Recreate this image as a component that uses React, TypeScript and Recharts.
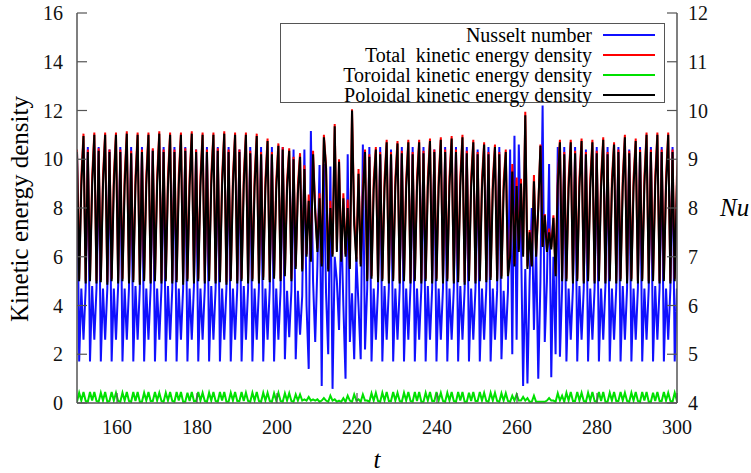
import React from 'react'
import { LineChart, Line, XAxis, YAxis } from 'recharts'

// uniform sampling of the time series: five samples per oscillation
const T0 = 150
const DT = 0.5414

// one row per oscillation (5 samples each)
const nusseltCycles: number[][] = [
  [9.15, 4.85, 6.35, 5.3, 6.35],
  [9.25, 4.85, 6.4, 5.3, 6.35],
  [9.25, 4.85, 6.35, 5.3, 6.35],
  [9.2, 4.85, 6.35, 5.3, 6.4],
  [9.25, 4.85, 6.35, 5.3, 6.35],
  [9.25, 4.85, 6.4, 5.3, 6.35],
  [9.25, 4.85, 6.35, 5.3, 6.35],
  [9.2, 4.85, 6.35, 5.3, 6.35],
  [9.25, 4.85, 6.4, 5.3, 6.35],
  [9.25, 4.85, 6.35, 5.3, 6.35],
  [9.25, 4.85, 6.35, 5.3, 6.4],
  [9.2, 4.85, 6.35, 5.3, 6.35],
  [9.25, 4.85, 6.4, 5.3, 6.35],
  [9.25, 4.85, 6.35, 5.3, 6.35],
  [9.25, 4.85, 6.35, 5.3, 6.35],
  [9.2, 4.85, 6.4, 5.3, 6.35],
  [9.25, 4.85, 6.35, 5.3, 6.35],
  [9.25, 4.85, 6.35, 5.3, 6.35],
  [9.25, 4.85, 6.35, 5.3, 6.3],
  [9.25, 4.9, 6.3, 5.35, 6.3],
  [9.2, 4.9, 6.3, 5.4, 6.2],
  [9.2, 6.0, 4.7, 9.58, 6.5],
  [5.25, 6.8, 8.88, 4.35, 8.9],
  [6.25, 5.0, 8.85, 4.29, 7.0],
  [6.5, 5.5, 7.75, 6.0, 4.5],
  [9.1, 5.25, 6.25, 4.9, 7.0],
  [6.0, 4.9, 9.3, 5.1, 6.35],
  [9.25, 4.85, 6.35, 5.3, 6.35],
  [9.25, 4.85, 6.4, 5.3, 6.35],
  [9.2, 4.85, 6.35, 5.3, 6.35],
  [9.25, 4.85, 6.35, 5.3, 6.4],
  [9.25, 4.85, 6.35, 5.3, 6.35],
  [9.25, 4.85, 6.4, 5.3, 6.35],
  [9.2, 4.85, 6.35, 5.3, 6.35],
  [9.25, 4.85, 6.35, 5.3, 6.35],
  [9.25, 4.85, 6.4, 5.3, 6.35],
  [9.25, 4.85, 6.35, 5.3, 6.35],
  [9.2, 4.85, 6.35, 5.3, 6.35],
  [9.25, 4.85, 6.35, 5.3, 6.3],
  [9.25, 4.9, 6.3, 5.3, 6.3],
  [9.2, 5.0, 9.48, 5.3, 9.3],
  [7.5, 4.35, 6.75, 4.4, 6.5],
  [8.0, 5.5, 7.25, 4.5, 6.5],
  [10.1, 5.25, 6.5, 8.9, 4.53],
  [7.0, 5.0, 9.25, 4.95, 6.35],
  [9.25, 4.85, 6.35, 5.3, 6.35],
  [9.25, 4.85, 6.4, 5.3, 6.35],
  [9.2, 4.85, 6.35, 5.3, 6.35],
  [9.25, 4.85, 6.35, 5.3, 6.4],
  [9.25, 4.85, 6.35, 5.3, 6.35],
  [9.25, 4.85, 6.4, 5.3, 6.35],
  [9.2, 4.85, 6.35, 5.3, 6.35],
  [9.25, 4.85, 6.35, 5.3, 6.35],
  [9.25, 4.85, 6.4, 5.3, 6.35],
  [9.25, 4.85, 6.35, 5.3, 6.35],
  [9.25, 4.85, 6.35, 5.3, 6.35],
]

const poloidalCycles: number[][] = [
  [10.3, 5.0, 8.9, 10.95, 4.9],
  [10.3, 5.0, 8.9, 11.0, 4.9],
  [10.35, 4.95, 8.95, 11.0, 4.85],
  [10.3, 5.0, 8.9, 11.0, 4.9],
  [10.3, 5.0, 8.9, 11.05, 4.9],
  [10.25, 4.95, 8.9, 11.0, 4.85],
  [10.3, 5.0, 8.95, 11.0, 4.9],
  [10.35, 5.0, 8.9, 11.05, 4.9],
  [10.3, 5.0, 8.9, 11.0, 4.9],
  [10.3, 4.95, 8.95, 11.0, 4.85],
  [10.35, 5.0, 8.9, 11.05, 4.9],
  [10.3, 5.0, 8.9, 11.0, 4.9],
  [10.3, 5.0, 8.95, 11.0, 4.9],
  [10.35, 4.95, 8.9, 11.05, 4.85],
  [10.3, 5.0, 8.9, 11.0, 4.9],
  [10.3, 5.0, 8.9, 11.0, 4.9],
  [10.25, 5.0, 8.85, 10.95, 4.9],
  [10.2, 5.05, 8.8, 10.75, 4.95],
  [10.2, 5.1, 8.75, 10.55, 5.0],
  [10.4, 5.2, 8.8, 10.35, 5.0],
  [10.0, 5.5, 8.6, 10.1, 5.4],
  [9.6, 6.0, 8.3, 5.8, 10.2],
  [7.8, 6.2, 8.4, 5.6, 10.9],
  [9.65, 5.4, 8.0, 6.0, 11.35],
  [6.2, 9.9, 5.8, 8.4, 6.0],
  [8.0, 5.5, 12.0, 7.3, 5.8],
  [9.4, 5.6, 8.5, 10.3, 5.0],
  [10.1, 5.1, 8.75, 10.4, 4.95],
  [10.2, 5.0, 8.8, 10.7, 4.9],
  [10.2, 5.0, 8.85, 10.65, 4.9],
  [10.25, 5.0, 8.8, 10.7, 4.9],
  [10.2, 5.0, 8.85, 10.7, 4.9],
  [10.25, 5.0, 8.85, 10.75, 4.9],
  [10.3, 5.0, 8.85, 10.8, 4.9],
  [10.3, 5.0, 8.9, 10.85, 4.9],
  [10.3, 4.95, 8.9, 10.9, 4.85],
  [10.25, 5.0, 8.85, 10.7, 4.9],
  [10.2, 5.0, 8.8, 10.6, 4.95],
  [10.2, 5.05, 8.75, 10.5, 5.0],
  [10.2, 5.1, 8.7, 10.3, 5.2],
  [6.0, 9.5, 5.6, 8.9, 6.2],
  [9.0, 6.0, 11.8, 5.5, 7.0],
  [5.6, 9.1, 6.0, 8.0, 10.55],
  [6.4, 7.7, 6.2, 7.0, 6.3],
  [7.6, 5.2, 8.9, 10.7, 5.0],
  [10.2, 5.0, 8.8, 10.7, 4.9],
  [10.25, 5.0, 8.85, 10.75, 4.9],
  [10.2, 5.0, 8.8, 10.7, 4.9],
  [10.25, 5.0, 8.85, 10.8, 4.9],
  [10.2, 5.0, 8.8, 10.6, 4.9],
  [10.3, 5.0, 8.85, 10.9, 4.9],
  [10.25, 5.0, 8.85, 10.75, 4.9],
  [10.3, 5.0, 8.9, 11.0, 4.9],
  [10.3, 5.0, 8.9, 11.0, 4.9],
  [10.3, 5.0, 8.9, 11.0, 4.9],
  [10.3, 5.0, 8.85, 10.9, 4.9],
]

const totalCycles: number[][] = [
  [10.4, 5.1, 9.3, 11.05, 5.0],
  [10.4, 5.1, 9.3, 11.1, 5.0],
  [10.45, 5.05, 9.35, 11.1, 4.95],
  [10.4, 5.1, 9.3, 11.1, 5.0],
  [10.4, 5.1, 9.3, 11.15, 5.0],
  [10.35, 5.05, 9.3, 11.1, 4.95],
  [10.4, 5.1, 9.35, 11.1, 5.0],
  [10.45, 5.1, 9.3, 11.15, 5.0],
  [10.4, 5.1, 9.3, 11.1, 5.0],
  [10.4, 5.05, 9.35, 11.1, 4.95],
  [10.45, 5.1, 9.3, 11.15, 5.0],
  [10.4, 5.1, 9.3, 11.1, 5.0],
  [10.4, 5.1, 9.35, 11.1, 5.0],
  [10.45, 5.05, 9.3, 11.15, 4.95],
  [10.4, 5.1, 9.3, 11.1, 5.0],
  [10.4, 5.1, 9.3, 11.1, 5.0],
  [10.35, 5.1, 9.25, 11.05, 5.0],
  [10.3, 5.15, 9.2, 10.85, 5.05],
  [10.3, 5.2, 9.15, 10.65, 5.1],
  [10.5, 5.3, 9.15, 10.45, 5.1],
  [10.1, 5.6, 8.95, 10.25, 5.5],
  [9.75, 6.1, 8.55, 5.9, 10.35],
  [7.95, 6.35, 8.6, 5.7, 11.0],
  [9.75, 5.5, 8.3, 6.1, 11.45],
  [6.3, 10.0, 5.9, 8.6, 6.1],
  [8.35, 5.6, 12.05, 7.7, 5.9],
  [9.6, 5.7, 8.9, 10.4, 5.1],
  [10.2, 5.2, 9.15, 10.5, 5.05],
  [10.3, 5.1, 9.2, 10.8, 5.0],
  [10.3, 5.1, 9.25, 10.75, 5.0],
  [10.35, 5.1, 9.2, 10.8, 5.0],
  [10.3, 5.1, 9.25, 10.8, 5.0],
  [10.35, 5.1, 9.25, 10.85, 5.0],
  [10.4, 5.1, 9.25, 10.9, 5.0],
  [10.4, 5.1, 9.3, 10.95, 5.0],
  [10.4, 5.05, 9.3, 11.0, 4.95],
  [10.35, 5.1, 9.25, 10.8, 5.0],
  [10.3, 5.1, 9.2, 10.7, 5.05],
  [10.3, 5.15, 9.15, 10.6, 5.1],
  [10.3, 5.2, 9.1, 10.4, 5.3],
  [6.1, 9.8, 5.7, 9.25, 6.3],
  [9.2, 6.1, 11.95, 5.6, 7.1],
  [5.65, 9.35, 6.05, 8.05, 10.6],
  [6.45, 7.75, 6.3, 7.15, 6.4],
  [7.7, 5.3, 9.3, 10.8, 5.1],
  [10.3, 5.1, 9.2, 10.8, 5.0],
  [10.35, 5.1, 9.25, 10.85, 5.0],
  [10.3, 5.1, 9.2, 10.8, 5.0],
  [10.35, 5.1, 9.25, 10.9, 5.0],
  [10.3, 5.1, 9.2, 10.7, 5.0],
  [10.4, 5.1, 9.25, 11.0, 5.0],
  [10.35, 5.1, 9.25, 10.85, 5.0],
  [10.4, 5.1, 9.3, 11.1, 5.0],
  [10.4, 5.1, 9.3, 11.1, 5.0],
  [10.4, 5.1, 9.3, 11.1, 5.0],
  [10.4, 5.1, 9.25, 11.0, 5.0],
]

const toroidalCycles: number[][] = [
  [0.05, 0.42, 0.1, 0.45, 0.08],
  [0.05, 0.45, 0.1, 0.45, 0.08],
  [0.05, 0.42, 0.1, 0.45, 0.05],
  [0.08, 0.45, 0.1, 0.42, 0.08],
  [0.05, 0.42, 0.1, 0.45, 0.08],
  [0.05, 0.45, 0.08, 0.45, 0.05],
  [0.05, 0.42, 0.1, 0.45, 0.08],
  [0.08, 0.45, 0.1, 0.42, 0.08],
  [0.05, 0.42, 0.1, 0.45, 0.08],
  [0.05, 0.45, 0.1, 0.45, 0.05],
  [0.05, 0.42, 0.08, 0.45, 0.08],
  [0.08, 0.45, 0.1, 0.42, 0.08],
  [0.05, 0.42, 0.1, 0.45, 0.08],
  [0.05, 0.45, 0.1, 0.45, 0.05],
  [0.05, 0.42, 0.1, 0.45, 0.08],
  [0.08, 0.45, 0.08, 0.42, 0.08],
  [0.05, 0.42, 0.1, 0.45, 0.08],
  [0.05, 0.42, 0.1, 0.42, 0.08],
  [0.05, 0.4, 0.1, 0.42, 0.08],
  [0.05, 0.4, 0.1, 0.4, 0.08],
  [0.05, 0.35, 0.1, 0.35, 0.1],
  [0.15, 0.1, 0.25, 0.1, 0.15],
  [0.1, 0.15, 0.05, 0.1, 0.2],
  [0.1, 0.05, 0.3, 0.1, 0.15],
  [0.05, 0.1, 0.05, 0.2, 0.05],
  [0.3, 0.1, 0.05, 0.35, 0.1],
  [0.15, 0.05, 0.35, 0.1, 0.1],
  [0.05, 0.4, 0.1, 0.42, 0.08],
  [0.05, 0.42, 0.1, 0.45, 0.08],
  [0.08, 0.45, 0.1, 0.42, 0.08],
  [0.05, 0.42, 0.1, 0.45, 0.08],
  [0.05, 0.45, 0.08, 0.45, 0.05],
  [0.05, 0.42, 0.1, 0.45, 0.08],
  [0.08, 0.45, 0.1, 0.42, 0.08],
  [0.05, 0.42, 0.1, 0.45, 0.08],
  [0.05, 0.45, 0.1, 0.45, 0.05],
  [0.05, 0.42, 0.08, 0.45, 0.08],
  [0.08, 0.45, 0.1, 0.42, 0.08],
  [0.05, 0.42, 0.1, 0.42, 0.08],
  [0.05, 0.4, 0.1, 0.4, 0.08],
  [0.05, 0.3, 0.1, 0.35, 0.1],
  [0.1, 0.25, 0.1, 0.2, 0.05],
  [0.05, 0.3, 0.05, 0.05, 0.05],
  [0.05, 0.05, 0.1, 0.2, 0.1],
  [0.1, 0.05, 0.4, 0.1, 0.3],
  [0.05, 0.42, 0.1, 0.45, 0.08],
  [0.08, 0.45, 0.1, 0.42, 0.08],
  [0.05, 0.42, 0.1, 0.45, 0.08],
  [0.05, 0.45, 0.08, 0.45, 0.05],
  [0.05, 0.42, 0.1, 0.45, 0.08],
  [0.08, 0.45, 0.1, 0.42, 0.08],
  [0.05, 0.42, 0.1, 0.45, 0.08],
  [0.05, 0.45, 0.1, 0.45, 0.05],
  [0.05, 0.42, 0.08, 0.45, 0.08],
  [0.08, 0.45, 0.1, 0.42, 0.08],
  [0.05, 0.42, 0.1, 0.45, 0.08],
]

const timeTicks = [160, 180, 200, 220, 240, 260, 280, 300]
const energyTicks = [0, 2, 4, 6, 8, 10, 12, 14, 16]
const nuTicks = [4, 5, 6, 7, 8, 9, 10, 11, 12]

const legendItems = [
  { name: 'Nusselt number', color: '#1010ff' },
  { name: 'Total  kinetic energy density', color: '#ff0000' },
  { name: 'Toroidal kinetic energy density', color: '#00e000' },
  { name: 'Poloidal kinetic energy density', color: '#000000' },
]

const nusselt = nusseltCycles.flat()
const poloidal = poloidalCycles.flat()
const total = totalCycles.flat()
const toroidal = toroidalCycles.flat()

const data = nusselt.map((nu, i) => ({
  t: +(T0 + i * DT).toFixed(3),
  nu,
  total: total[i],
  toroidal: toroidal[i],
  poloidal: poloidal[i],
}))

const SERIF = '"Liberation Serif", "Times New Roman", serif'
const FRAME = '#555'

const tickFont = { fill: '#111', fontSize: 20, fontFamily: SERIF }

function Legend() {
  return (
    <div
      style={{
        position: 'absolute', left: 280, top: 23, width: 385, height: 80,
        border: `1.5px solid ${FRAME}`, background: '#fff', boxSizing: 'border-box',
        fontFamily: SERIF, fontSize: 20, color: '#000',
      }}
    >
      {legendItems.map((item, i) => (
        <div key={item.name} style={{ position: 'absolute', left: 0, right: 0, top: 0.5 + i * 20, height: 20 }}>
          <span style={{ position: 'absolute', right: 72, top: 0, lineHeight: '20px', whiteSpace: 'pre' }}>
            {item.name}
          </span>
          <div style={{ position: 'absolute', left: 322, width: 52, top: 9, height: 2, background: item.color }} />
        </div>
      ))}
    </div>
  )
}

export default function App() {
  return (
    <div style={{ position: 'absolute', left: 0, top: 0, width: 751, height: 473, background: '#fff' }}>
      <LineChart width={751} height={473} data={data} margin={{ top: 13, right: 14, bottom: 0, left: 7 }}>
        <XAxis
          dataKey="t" type="number" domain={[150, 300]} ticks={timeTicks} interval={0} allowDataOverflow
          height={70} tickSize={-10} tickMargin={27} tick={tickFont}
          axisLine={{ stroke: FRAME, strokeWidth: 1.5 }} tickLine={{ stroke: FRAME, strokeWidth: 1.2 }}
        />
        <XAxis
          xAxisId="top" orientation="top" dataKey="t" type="number" domain={[150, 300]} ticks={timeTicks}
          interval={0} allowDataOverflow height={0} tickSize={-10} tick={false}
          axisLine={{ stroke: FRAME, strokeWidth: 1.5 }} tickLine={{ stroke: FRAME, strokeWidth: 1.2 }}
        />
        <YAxis
          yAxisId="energy" domain={[0, 16]} ticks={energyTicks} interval={0} allowDataOverflow
          width={70} tickSize={-10} tickMargin={24} tick={tickFont}
          axisLine={{ stroke: FRAME, strokeWidth: 1.5 }} tickLine={{ stroke: FRAME, strokeWidth: 1.2 }}
        />
        <YAxis
          yAxisId="nu" orientation="right" domain={[4, 12]} ticks={nuTicks} interval={0} allowDataOverflow
          width={60} tickSize={-10} tickMargin={21} tick={tickFont}
          axisLine={{ stroke: FRAME, strokeWidth: 1.5 }} tickLine={{ stroke: FRAME, strokeWidth: 1.2 }}
        />
        <Line yAxisId="nu" dataKey="nu" stroke={legendItems[0].color} strokeWidth={2} dot={false} isAnimationActive={false} />
        <Line yAxisId="energy" dataKey="total" stroke={legendItems[1].color} strokeWidth={2} dot={false} isAnimationActive={false} />
        <Line yAxisId="energy" dataKey="toroidal" stroke={legendItems[2].color} strokeWidth={2} dot={false} isAnimationActive={false} />
        <Line yAxisId="energy" dataKey="poloidal" stroke={legendItems[3].color} strokeWidth={2} dot={false} isAnimationActive={false} />
      </LineChart>
      <Legend />
      <div
        style={{
          position: 'absolute', left: 20, top: 209, transform: 'translate(-50%, -50%) rotate(-90deg)',
          whiteSpace: 'nowrap', fontFamily: SERIF, fontSize: 25, color: '#000',
        }}
      >
        Kinetic energy density
      </div>
      <div
        style={{
          position: 'absolute', left: 377, top: 460, transform: 'translate(-50%, -50%)',
          fontFamily: SERIF, fontStyle: 'italic', fontSize: 25, color: '#000',
        }}
      >
        t
      </div>
      <div
        style={{
          position: 'absolute', left: 720, top: 208, transform: 'translateY(-50%)',
          fontFamily: SERIF, fontStyle: 'italic', fontSize: 25, color: '#000',
        }}
      >
        Nu
      </div>
    </div>
  )
}
